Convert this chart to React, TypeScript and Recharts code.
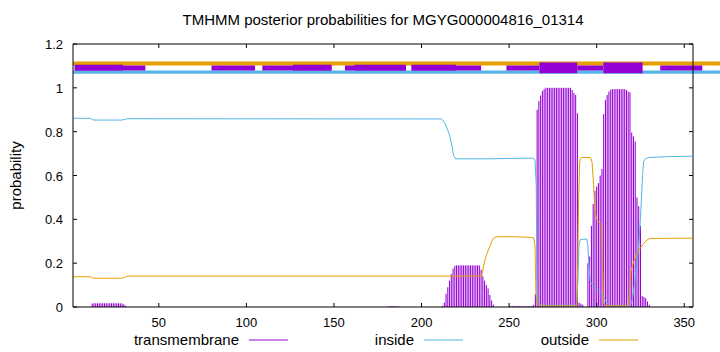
import React from 'react';
import { ComposedChart, Line, Bar, XAxis, YAxis, ReferenceArea, ReferenceLine } from 'recharts';

// ---------- data ----------
const SEQ_START = 1;
const SEQ_END = 355;
const BAND_END = 380;
const X_TICKS = [50, 100, 150, 200, 250, 300, 350];
const Y_TICKS = [0, 0.2, 0.4, 0.6, 0.8, 1, 1.2];
const TITLE = 'TMHMM posterior probabilities for MGYG000004816_01314';
const Y_LABEL = 'probability';

// inside probability (residue, p)
const insideCurve: [number, number][] = [
  [1, 0.861], [11, 0.861], [12.5, 0.853], [29, 0.853], [32, 0.859], [211.5, 0.858],
  [213.4, 0.839], [215.8, 0.79], [217.5, 0.73], [218.3, 0.69], [219.5, 0.676],
  [239, 0.676], [250, 0.678], [263.5, 0.679], [264.8, 0.672], [265.5, 0.55],
  [265.9, 0.15], [266.3, 0.03], [268, 0.008], [288.5, 0.008], [289.3, 0.12],
  [289.9, 0.28], [290.6, 0.308], [294.4, 0.31], [295, 0.28], [295.5, 0.2],
  [296.3, 0.115], [300, 0.08], [303, 0.06], [305.8, 0.02], [307.5, 0.005],
  [319, 0.005], [320.3, 0.03], [321.5, 0.1], [323, 0.2], [324.3, 0.31],
  [325.3, 0.45], [326.2, 0.6], [326.8, 0.665], [328, 0.676], [329.5, 0.682],
  [340, 0.686], [355, 0.688],
];

// outside probability (residue, p)
const outsideCurve: [number, number][] = [
  [1, 0.138], [11, 0.138], [12.5, 0.131], [29, 0.131], [32, 0.141], [234.4, 0.141],
  [235.4, 0.185], [236.4, 0.22], [237.4, 0.245], [238.4, 0.265], [239.4, 0.285],
  [240.3, 0.303], [241.2, 0.315], [242.5, 0.32], [250, 0.321], [262, 0.318],
  [264, 0.316], [264.8, 0.28], [265.3, 0.06], [266, 0.015], [268, 0.005],
  [288.6, 0.005], [289.2, 0.2], [289.7, 0.5], [290.3, 0.665], [291.2, 0.682],
  [296.5, 0.682], [297.4, 0.66], [298.2, 0.56], [299, 0.44], [300.1, 0.397],
  [302.9, 0.374], [303.3, 0.2], [303.8, 0.02], [305, 0.005], [318.2, 0.005],
  [318.9, 0.08], [319.5, 0.16], [320.5, 0.19], [323, 0.25], [325, 0.27],
  [327, 0.29], [328.7, 0.306], [330.6, 0.313], [355, 0.314],
];

// transmembrane probability per residue, in runs starting at a residue
const tmRun1Start = 12;
const tmRun1 = [0.016, 0.017, 0.017, 0.017, 0.017, 0.017, 0.017, 0.017, 0.017, 0.017,
  0.017, 0.017, 0.017, 0.017, 0.017, 0.017, 0.017, 0.016, 0.012, 0.006];
const tmRun2Start = 181;
const tmRun2 = [0.003, 0.004, 0.004, 0.004, 0.004, 0.003, 0.003];
const tmRun3Start = 212;
const tmRun3 = [0.005, 0.02, 0.06, 0.09, 0.12, 0.15, 0.175, 0.188,
  0.19, 0.19, 0.19, 0.19, 0.19, 0.19, 0.19, 0.19, 0.19, 0.19, 0.19, 0.19, 0.19, 0.19,
  0.17, 0.14, 0.12, 0.10, 0.085, 0.055, 0.03, 0.01];
const tmRun4Start = 250;
const tmRun4 = [0.004, 0.004, 0.004, 0.004, 0.004, 0.004, 0.004, 0.004, 0.004, 0.004,
  0.004, 0.004, 0.004, 0.004];
const tmRun5Start = 264;
const tmRun5 = [0.01, 0.06, 0.90, 0.94, 0.965, 0.985, 0.995,
  1, 1, 1, 1, 1, 1, 1, 1, 1, 1, 1, 1, 1, 1, 1,
  0.99, 0.976, 0.968, 0.884, 0.02, 0.015, 0.01];
const tmRun6Start = 295;
const tmRun6 = [0.2, 0.23, 0.37, 0.47, 0.53, 0.55, 0.565, 0.60, 0.63, 0.88,
  0.945, 0.968, 0.983, 0.991, 0.994, 0.994, 0.994, 0.994, 0.994, 0.994, 0.994, 0.994,
  0.99, 0.983, 0.979, 0.796, 0.778, 0.755, 0.50, 0.46, 0.37,
  0.05, 0.045, 0.04, 0.025, 0.01];

// topology band at the top
const BAND_OUTSIDE_Y: [number, number] = [1.102, 1.12];
const BAND_INSIDE_Y: [number, number] = [1.064, 1.079];
const BAND_TM_Y: [number, number] = [1.079, 1.102];
const BAND_TM_STEP_Y: [number, number] = [1.079, 1.105];
const BAND_TM_TALL_Y: [number, number] = [1.066, 1.116];
const bandThin: [number, number][] = [
  [2, 42.3], [80.1, 104.9], [109.1, 148.6], [156.3, 191.1], [194.3, 234],
  [248.5, 267.3], [288.9, 303.8], [336.3, 360.3], [370.4, 380],
];
const bandStep: [number, number][] = [[2, 29.5], [126.5, 148.6], [161.8, 191.1], [194.3, 219.6]];
const bandTall: [number, number][] = [[267.3, 288.9], [303.8, 326.2]];

const legendItems = [
  { name: 'transmembrane', color: '#9400d3' },
  { name: 'inside', color: '#56b4e9' },
  { name: 'outside', color: '#e69f00' },
];

// ---------- derived tables ----------
const runs: [number, number[]][] = [
  [tmRun1Start, tmRun1], [tmRun2Start, tmRun2], [tmRun3Start, tmRun3],
  [tmRun4Start, tmRun4], [tmRun5Start, tmRun5], [tmRun6Start, tmRun6],
];
const tmData = runs.flatMap(([s, vals]) => vals.map((v, i) => ({ x: s + i, tm: v })));
const insideData = insideCurve.map(([x, p]) => ({ x, p }));
const outsideData = outsideCurve.map(([x, p]) => ({ x, p }));

// ---------- layout ----------
const W = 720;
const H = 352;
const M = { top: 44, right: 27, bottom: 0, left: 0 };
const Y_AXIS_W = 73;
const X_AXIS_H = 45;
const PLOT_L = M.left + Y_AXIS_W;
const PLOT_R = W - M.right;
const PLOT_T = M.top;
const PLOT_B = H - M.bottom - X_AXIS_H;
const TICK = 4;
const IMPULSE_W = 1.05;
const FONT = '"Liberation Sans", Arial, Helvetica, sans-serif';
const TICK_FS = 13;
const TEXT_FS = 15;

const XTick = (props: any) => {
  const { x, payload } = props;
  return (
    <g>
      <line x1={x} x2={x} y1={PLOT_B} y2={PLOT_B - TICK} stroke="#000" />
      <line x1={x} x2={x} y1={PLOT_T} y2={PLOT_T + TICK} stroke="#000" />
      <text x={x} y={PLOT_B + 20} textAnchor="middle" fontSize={TICK_FS} fontFamily={FONT} fill="#000">
        {payload.value}
      </text>
    </g>
  );
};

const YTick = (props: any) => {
  const { y, payload } = props;
  return (
    <g>
      <line x1={PLOT_L} x2={PLOT_L + TICK} y1={y} y2={y} stroke="#000" />
      <line x1={PLOT_R} x2={PLOT_R - TICK} y1={y} y2={y} stroke="#000" />
      <text x={PLOT_L - 10} y={y + 5} textAnchor="end" fontSize={TICK_FS} fontFamily={FONT} fill="#000">
        {payload.value}
      </text>
    </g>
  );
};

// impulse: fixed-width vertical stroke centred on the library's bar position
const Impulse = (props: any) => {
  const { x, y, width, height } = props;
  if (height == null || !isFinite(height)) return null;
  const cx = x + width / 2;
  return <rect x={cx - IMPULSE_W / 2} y={y} width={IMPULSE_W} height={Math.max(height, 0.5)} fill="#9400d3" />;
};

export default function App() {
  return (
    <div style={{ position: 'relative', width: W, height: H, background: '#fff' }}>
      <style>{'body{margin:0;}'}</style>
      <ComposedChart width={W} height={H} data={tmData} margin={M}>
        <XAxis
          dataKey="x"
          type="number"
          domain={[SEQ_START, SEQ_END]}
          allowDataOverflow
          ticks={X_TICKS}
          interval={0}
          height={X_AXIS_H}
          tickLine={false}
          tickSize={0}
          tickMargin={0}
          axisLine={{ stroke: '#000' }}
          tick={<XTick />}
        />
        <YAxis
          type="number"
          domain={[0, 1.2]}
          allowDataOverflow
          ticks={Y_TICKS}
          interval={0}
          width={Y_AXIS_W}
          tickLine={false}
          tickSize={0}
          tickMargin={0}
          axisLine={{ stroke: '#000' }}
          tick={<YTick />}
        />
        <ReferenceLine y={1.2} stroke="#000" />
        <ReferenceLine x={SEQ_END} stroke="#000" />
        <ReferenceArea x1={SEQ_START} x2={BAND_END} y1={BAND_OUTSIDE_Y[0]} y2={BAND_OUTSIDE_Y[1]}
          fill="#e69f00" fillOpacity={1} stroke="none" ifOverflow="visible" />
        <ReferenceArea x1={SEQ_START} x2={BAND_END} y1={BAND_INSIDE_Y[0]} y2={BAND_INSIDE_Y[1]}
          fill="#56b4e9" fillOpacity={1} stroke="none" ifOverflow="visible" />
        {bandThin.map(([a, b], i) => (
          <ReferenceArea key={'t' + i} x1={a} x2={b} y1={BAND_TM_Y[0]} y2={BAND_TM_Y[1]}
            fill="#9400d3" fillOpacity={1} stroke="none" ifOverflow="visible" />
        ))}
        {bandStep.map(([a, b], i) => (
          <ReferenceArea key={'s' + i} x1={a} x2={b} y1={BAND_TM_STEP_Y[0]} y2={BAND_TM_STEP_Y[1]}
            fill="#9400d3" fillOpacity={1} stroke="none" ifOverflow="visible" />
        ))}
        {bandTall.map(([a, b], i) => (
          <ReferenceArea key={'T' + i} x1={a} x2={b} y1={BAND_TM_TALL_Y[0]} y2={BAND_TM_TALL_Y[1]}
            fill="#9400d3" fillOpacity={1} stroke="none" ifOverflow="visible" />
        ))}
        <Bar dataKey="tm" fill="#9400d3" shape={<Impulse />} isAnimationActive={false} />
        <Line data={insideData} dataKey="p" type="linear" stroke="#56b4e9" strokeWidth={1}
          dot={false} activeDot={false} isAnimationActive={false} />
        <Line data={outsideData} dataKey="p" type="linear" stroke="#e69f00" strokeWidth={1}
          dot={false} activeDot={false} isAnimationActive={false} />
      </ComposedChart>
      <svg width={W} height={H} style={{ position: 'absolute', left: 0, top: 0, pointerEvents: 'none' }}>
        <text x={(PLOT_L + PLOT_R) / 2} y={24.5} textAnchor="middle" fontSize={TEXT_FS} fontFamily={FONT} fill="#000">
          {TITLE}
        </text>
        <text x={21} y={(PLOT_T + PLOT_B) / 2} textAnchor="middle" fontSize={TEXT_FS} fontFamily={FONT} fill="#000"
          transform={`rotate(-90 21 ${(PLOT_T + PLOT_B) / 2})`}>
          {Y_LABEL}
        </text>
        {legendItems.map((it, i) => {
          const textEnd = 239 + i * 175;
          return (
            <g key={it.name}>
              <text x={textEnd} y={345} textAnchor="end" fontSize={TEXT_FS} fontFamily={FONT} fill="#000">
                {it.name}
              </text>
              <line x1={textEnd + 10} x2={textEnd + 49} y1={340} y2={340} stroke={it.color} strokeWidth={1} />
            </g>
          );
        })}
      </svg>
    </div>
  );
}
